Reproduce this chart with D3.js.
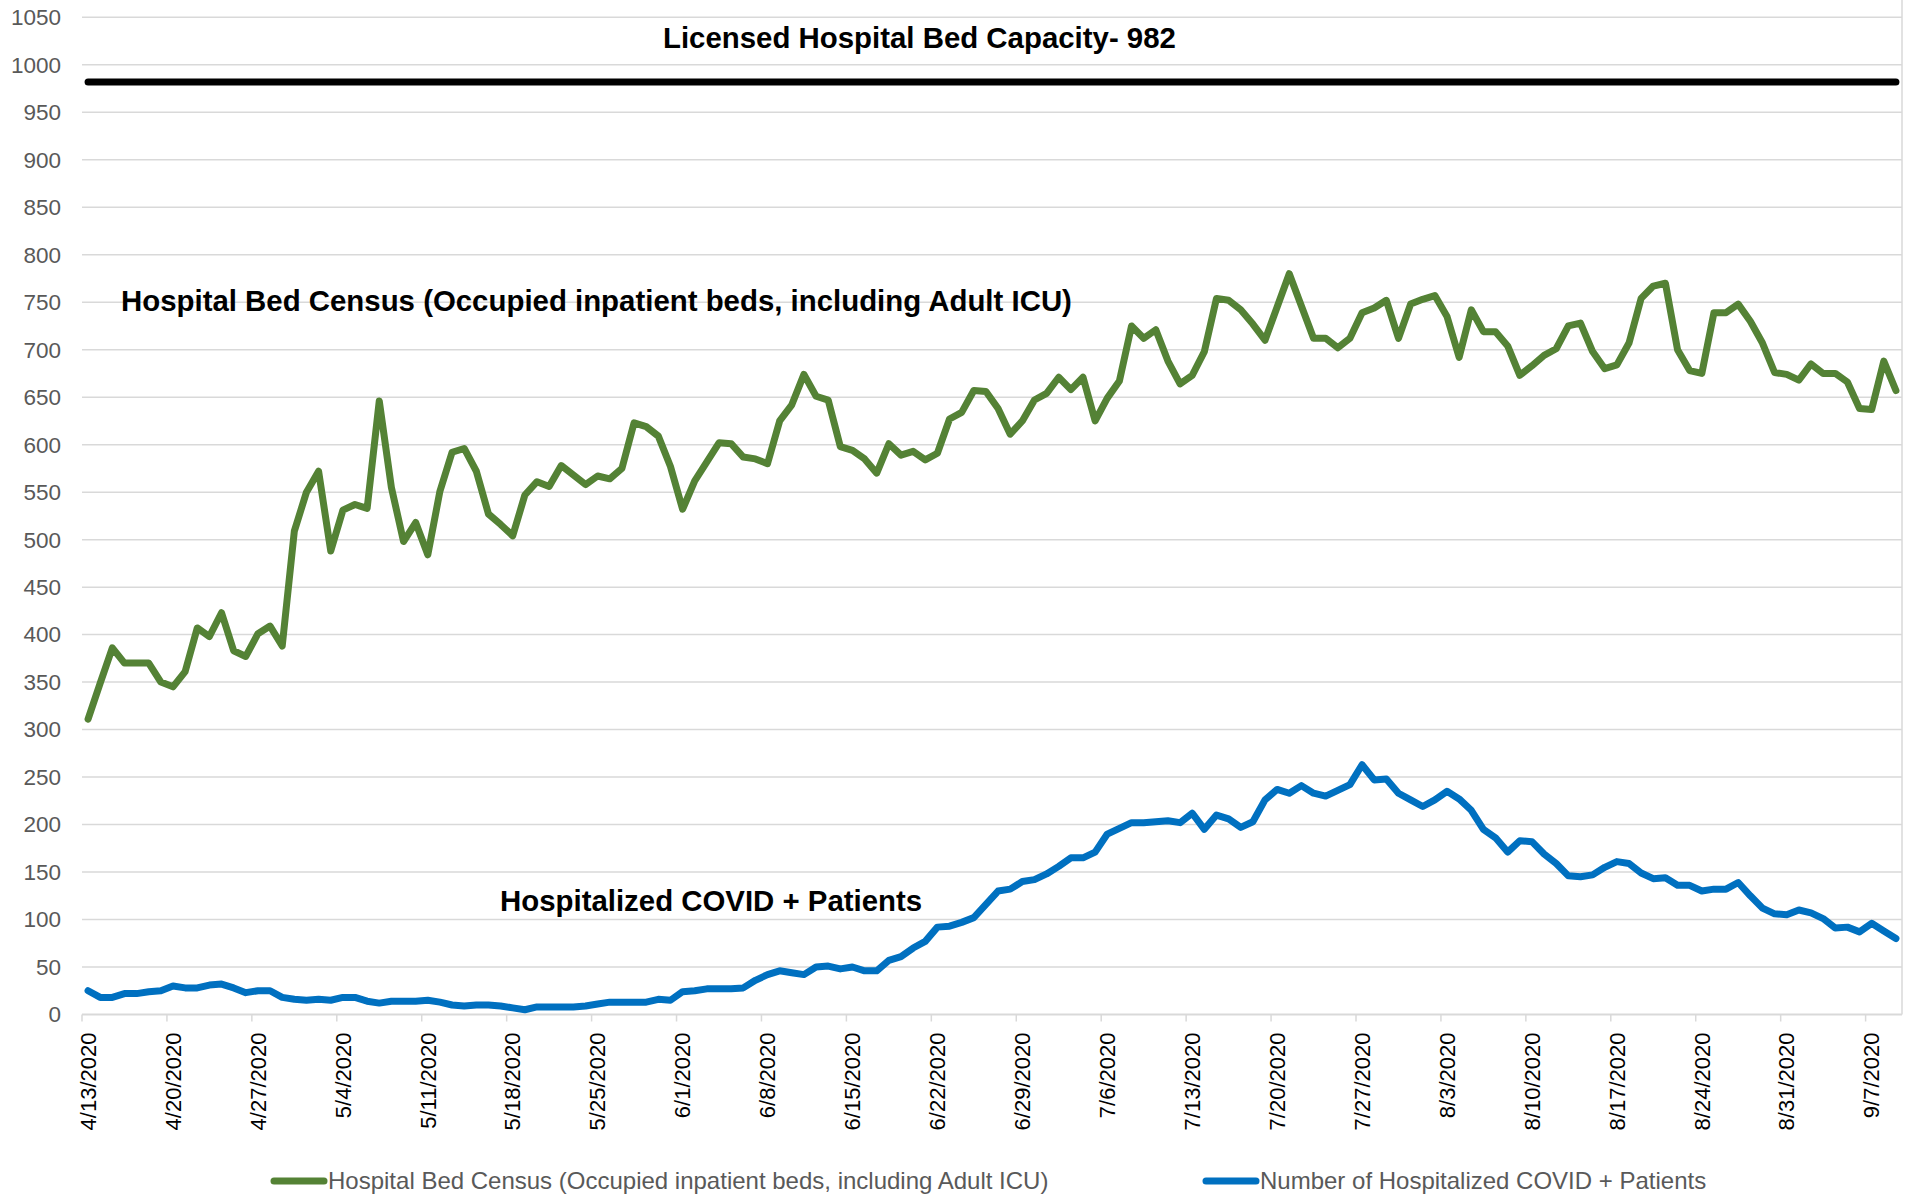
<!DOCTYPE html>
<html>
<head>
<meta charset="utf-8">
<script src="https://cdn.jsdelivr.net/npm/d3@7"></script>
<style>
body { margin: 0; background: #fff; }
text { font-family: Arial, "Liberation Sans", sans-serif; }
</style>
</head>
<body>
<div class="census-chart"></div>
<script>
// daily values, 4/13/2020 .. 9/9/2020
const startDate = "4/13/2020"
const endDate = "9/9/2020"

const tickLabels = ["4/13/2020", "4/20/2020", "4/27/2020", "5/4/2020", "5/11/2020", "5/18/2020",
    "5/25/2020", "6/1/2020", "6/8/2020", "6/15/2020", "6/22/2020", "6/29/2020", "7/6/2020",
    "7/13/2020", "7/20/2020", "7/27/2020", "8/3/2020", "8/10/2020", "8/17/2020", "8/24/2020",
    "8/31/2020", "9/7/2020"]

const yTicks = [0, 50, 100, 150, 200, 250, 300, 350, 400, 450, 500, 550, 600, 650, 700, 750,
    800, 850, 900, 950, 1000, 1050]

const bedCensus = [
    311, 349, 386, 370, 370, 370, 350, 345, 361, 407,
    398, 423, 383, 377, 401, 409, 388, 509, 550, 572,
    488, 531, 537, 533, 646, 555, 498, 518, 484, 551,
    592, 596, 572, 527, 516, 504, 547, 561, 556, 578,
    568, 558, 567, 564, 575, 623, 619, 609, 577, 532,
    562, 582, 602, 601, 587, 585, 580, 625, 642, 674,
    651, 647, 598, 594, 585, 570, 601, 589, 593, 584,
    591, 627, 634, 657, 656, 638, 611, 625, 647, 654,
    671, 658, 671, 625, 649, 667, 725, 712, 721, 688,
    664, 673, 698, 754, 752, 742, 727, 710, 745, 780,
    746, 712, 712, 702, 712, 739, 744, 752, 712, 748,
    753, 757, 735, 692, 742, 719, 719, 704, 673, 683,
    694, 701, 725, 728, 698, 680, 684, 707, 754, 767,
    770, 700, 678, 675, 739, 739, 748, 730, 707, 676,
    674, 668, 685, 675, 675, 666, 638, 637, 688, 657
]

const covidPatients = [
    25, 18, 18, 22, 22, 24, 25, 30, 28, 28,
    31, 32, 28, 23, 25, 25, 18, 16, 15, 16,
    15, 18, 18, 14, 12, 14, 14, 14, 15, 13,
    10, 9, 10, 10, 9, 7, 5, 8, 8, 8,
    8, 9, 11, 13, 13, 13, 13, 16, 15, 24,
    25, 27, 27, 27, 28, 36, 42, 46, 44, 42,
    50, 51, 48, 50, 46, 46, 57, 61, 70, 77,
    92, 93, 97, 102, 116, 130, 132, 140, 142, 148,
    156, 165, 165, 171, 190, 196, 202, 202, 203, 204,
    202, 212, 195, 210, 206, 197, 203, 226, 237, 233,
    241, 233, 230, 236, 242, 263, 247, 248, 233, 226,
    219, 226, 235, 227, 215, 195, 186, 171, 183, 182,
    169, 159, 146, 145, 147, 155, 161, 159, 149, 143,
    144, 136, 136, 130, 132, 132, 139, 125, 112, 106,
    105, 110, 107, 101, 91, 92, 87, 96, 88, 80
]

const bedCapacity = 982

const seriesNames = ["Hospital Bed Census (Occupied inpatient beds, including Adult ICU)",
    "Number of Hospitalized COVID + Patients"]

const width = 1914
const height = 1195
const plotLeft = 82, plotRight = 1902, plotTop = 17.3, plotBottom = 1014.5

const parseDate = d3.timeParse("%m/%d/%Y")
const days = d3.timeDay.range(parseDate(startDate), d3.timeDay.offset(parseDate(endDate), 1))
const mid = d => d3.timeHour.offset(d, 12)

const svg = d3.select(".census-chart").append("svg")
    .attr("width", width)
    .attr("height", height)
    .attr("viewBox", [0, 0, width, height])

const x = d3.scaleTime()
    .domain([days[0], d3.timeDay.offset(days[days.length - 1], 1)])
    .range([plotLeft, plotRight])

const y = d3.scaleLinear()
    .domain([0, 1050])
    .range([plotBottom, plotTop])

// gridlines + y labels
svg.append("g")
    .selectAll("line")
    .data(yTicks.filter(d => d > 0))
    .join("line")
    .attr("x1", plotLeft)
    .attr("x2", plotRight)
    .attr("y1", d => y(d))
    .attr("y2", d => y(d))
    .attr("stroke", "#d9d9d9")
    .attr("stroke-width", 1.5)

svg.append("g")
    .selectAll("text")
    .data(yTicks)
    .join("text")
    .attr("x", 61)
    .attr("y", d => y(d))
    .attr("dy", "0.35em")
    .attr("text-anchor", "end")
    .attr("font-size", 22.5)
    .attr("fill", "#595959")
    .text(d => d)

// right border
svg.append("line")
    .attr("x1", plotRight).attr("x2", plotRight)
    .attr("y1", 0).attr("y2", plotBottom)
    .attr("stroke", "#d9d9d9")
    .attr("stroke-width", 1.5)

// x axis
const tickDates = tickLabels.map(parseDate)
svg.append("line")
    .attr("x1", plotLeft).attr("x2", plotRight)
    .attr("y1", plotBottom).attr("y2", plotBottom)
    .attr("stroke", "#d9d9d9")
    .attr("stroke-width", 2)

svg.append("g")
    .selectAll("line")
    .data(tickDates)
    .join("line")
    .attr("x1", d => x(d))
    .attr("x2", d => x(d))
    .attr("y1", plotBottom)
    .attr("y2", plotBottom + 7)
    .attr("stroke", "#d9d9d9")
    .attr("stroke-width", 1.5)

svg.append("g")
    .selectAll("text")
    .data(tickLabels)
    .join("text")
    .attr("transform", d => `translate(${x(mid(parseDate(d)))},${plotBottom + 18}) rotate(-90)`)
    .attr("dy", "0.35em")
    .attr("text-anchor", "end")
    .attr("font-size", 22)
    .attr("fill", "#000")
    .text(d => d)

// series
const line = d3.line()
    .x((d, i) => x(mid(days[i])))
    .y(d => y(d))

svg.append("path")
    .datum(covidPatients)
    .attr("d", line)
    .attr("fill", "none")
    .attr("stroke", "#0070c0")
    .attr("stroke-width", 7)
    .attr("stroke-linejoin", "round")
    .attr("stroke-linecap", "round")

svg.append("path")
    .datum(bedCensus)
    .attr("d", line)
    .attr("fill", "none")
    .attr("stroke", "#548235")
    .attr("stroke-width", 7)
    .attr("stroke-linejoin", "round")
    .attr("stroke-linecap", "round")

svg.append("line")
    .attr("x1", x(mid(days[0])))
    .attr("x2", x(mid(days[days.length - 1])))
    .attr("y1", y(bedCapacity))
    .attr("y2", y(bedCapacity))
    .attr("stroke", "#000")
    .attr("stroke-width", 7)
    .attr("stroke-linecap", "round")

// annotations
const notes = [
    {text: "Licensed Hospital Bed Capacity- " + bedCapacity, x: 663, y: 48},
    {text: "Hospital Bed Census (Occupied inpatient beds, including Adult ICU)", x: 121, y: 311},
    {text: "Hospitalized COVID + Patients", x: 500, y: 911}
]
svg.append("g")
    .selectAll("text")
    .data(notes)
    .join("text")
    .attr("x", d => d.x)
    .attr("y", d => d.y)
    .attr("font-size", 29.4)
    .attr("font-weight", "bold")
    .attr("fill", "#000")
    .text(d => d.text)

// legend
const legend = svg.append("g")
const legendItems = [
    {name: seriesNames[0], color: "#548235", x: 271},
    {name: seriesNames[1], color: "#0070c0", x: 1203}
]
legend.selectAll("line")
    .data(legendItems)
    .join("line")
    .attr("x1", d => d.x + 3)
    .attr("x2", d => d.x + 53)
    .attr("y1", 1181)
    .attr("y2", 1181)
    .attr("stroke", d => d.color)
    .attr("stroke-width", 7)
    .attr("stroke-linecap", "round")
legend.selectAll("text")
    .data(legendItems)
    .join("text")
    .attr("x", d => d.x + 57)
    .attr("y", 1181)
    .attr("dy", "0.35em")
    .attr("font-size", 24)
    .attr("fill", "#595959")
    .text(d => d.name)
</script>
</body>
</html>
